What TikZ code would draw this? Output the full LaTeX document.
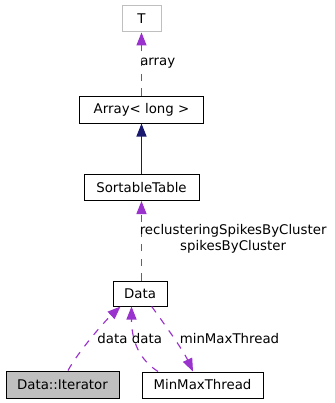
\documentclass[tikz,border=0pt]{standalone}
\usepackage{fontspec}
\setmainfont{DejaVu Sans}
\usetikzlibrary{arrows.meta,calc}
\definecolor{usage}{RGB}{154,50,205}
\definecolor{inherit}{RGB}{25,25,112}
\definecolor{undoc}{RGB}{191,191,191}
\definecolor{current}{RGB}{191,191,191}
\begin{document}
\begin{tikzpicture}[x=0.75pt,y=-0.75pt,
  font=\fontsize{10}{12}\selectfont,
  cls/.style={draw=black,line width=0.75pt,inner sep=0pt,fill=white},
  usedby/.style={draw=usage,line width=0.85pt,dash pattern=on 5.4pt off 5.6pt,
    -{Triangle[length=9.75pt,width=7.5pt]},fill=none},
  derived/.style={draw=inherit,line width=0.85pt,
    -{Triangle[length=9.75pt,width=7.5pt]}},
  lbl/.style={inner sep=0pt,text=black}]
  \useasboundingbox[fill=white] (0,0) rectangle (335,403);

  % classes
  \node[cls,draw=undoc,minimum width=29.25pt,minimum height=19.5pt] (t) at (141.5,19) {T};
  \node[cls,minimum width=93pt,minimum height=20.25pt] (arr) at (141.5,109.5) {Array< long >};
  \node[cls,minimum width=86.25pt,minimum height=19.5pt] (st) at (141.5,187.5) {SortableTable};
  \node[cls,minimum width=40.5pt,minimum height=18.75pt] (data) at (140,293.5) {Data};
  \node[cls,fill=current,minimum width=84.75pt,minimum height=20.25pt] (it) at (62.5,384.5) {Data::Iterator};
  \node[cls,minimum width=90.75pt,minimum height=19.5pt] (mmt) at (202.5,385) {MinMaxThread};

  % relations
  \draw[usedby] (arr.north) -- (t.south);
  \draw[derived] (st.north) -- (arr.south);
  \draw[usedby] ($(data.north)+(1.5,0)$) -- (st.south);
  \draw[usedby] ($(it.north)+(5.5,0)$) .. controls (78,352) and (104,322) .. ($(data.south)+(-19.5,0)$);
  \draw[usedby] ($(mmt.north)+(-44.5,0)$) .. controls (140,360) and (131.5,342) .. ($(data.south)+(-8.5,0)$);
  \draw[usedby] ($(data.south)+(11.7,0)$) .. controls (165,325) and (183,350) .. ($(mmt.north)+(-9.5,0)$);

  % member labels
  \node[lbl,anchor=west] (la) at (140,63) {array};
  \node[lbl,anchor=west,align=center] (ls) at (139.5,238.5) {reclusteringSpikesByCluster\\spikesByCluster};
  \node[lbl] (ld1) at (112.5,339) {data};
  \node[lbl] (ld2) at (147,339) {data};
  \node[lbl] (lm) at (229.5,339) {minMaxThread};
\end{tikzpicture}
\end{document}
